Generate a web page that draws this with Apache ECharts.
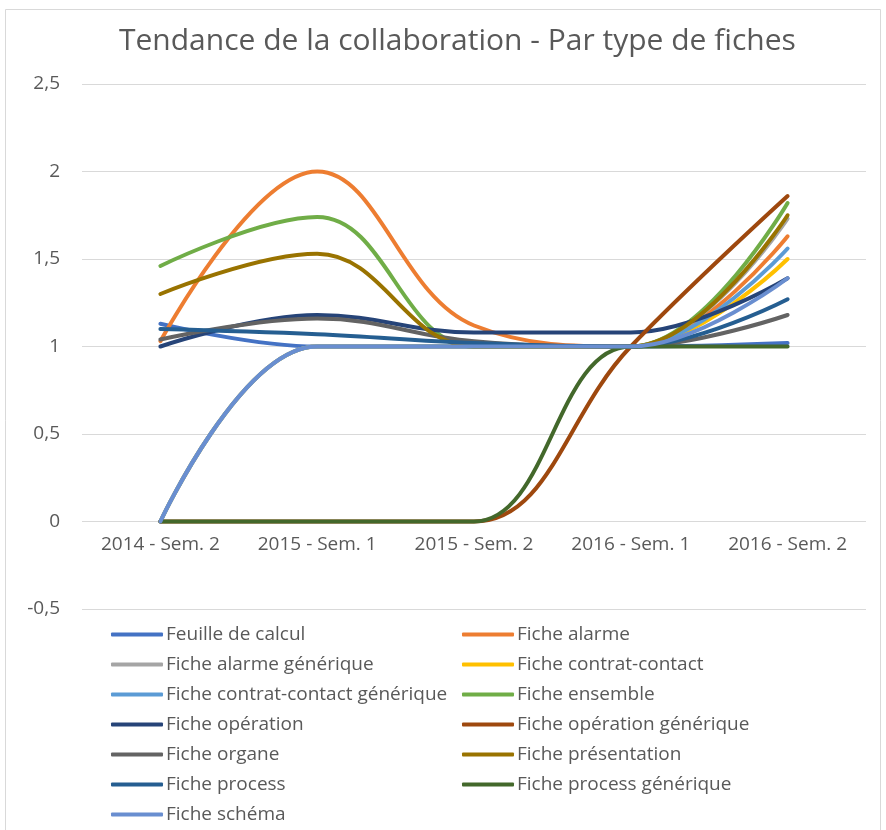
<!DOCTYPE html>
<html>
<head>
<meta charset="utf-8">
<script src="https://cdn.jsdelivr.net/npm/echarts@6/dist/echarts.min.js"></script>
<style>
  html, body { margin: 0; padding: 0; background: #fff; }
  #chart { width: 886px; height: 830px; }
</style>
</head>
<body>
<div id="chart"></div>
<script>
const categories = ["2014 - Sem. 2", "2015 - Sem. 1", "2015 - Sem. 2", "2016 - Sem. 1", "2016 - Sem. 2"];

const feuilleCalcul = [1.13, 1.0, 1.0, 1.0, 1.02];
const ficheAlarme = [1.03, 2.0, 1.12, 1.0, 1.63];
const ficheAlarmeGenerique = [0, 1.0, 1.0, 1.0, 1.73];
const ficheContratContact = [0, 1.0, 1.0, 1.0, 1.5];
const ficheContratContactGenerique = [0, 1.0, 1.0, 1.0, 1.56];
const ficheEnsemble = [1.46, 1.74, 1.0, 1.0, 1.82];
const ficheOperation = [1.0, 1.18, 1.08, 1.08, 1.39];
const ficheOperationGenerique = [0, 0, 0, 1.0, 1.86];
const ficheOrgane = [1.04, 1.16, 1.03, 1.0, 1.18];
const fichePresentation = [1.3, 1.53, 1.0, 1.0, 1.75];
const ficheProcess = [1.1, 1.07, 1.02, 1.0, 1.27];
const ficheProcessGenerique = [0, 0, 0, 1.0, 1.0];
const ficheSchema = [0, 1.0, 1.0, 1.0, 1.39];

const seriesNames = [
  "Feuille de calcul", "Fiche alarme", "Fiche alarme générique", "Fiche contrat-contact",
  "Fiche contrat-contact générique", "Fiche ensemble", "Fiche opération", "Fiche opération générique",
  "Fiche organe", "Fiche présentation", "Fiche process", "Fiche process générique", "Fiche schéma"
];
const seriesValues = [
  feuilleCalcul, ficheAlarme, ficheAlarmeGenerique, ficheContratContact,
  ficheContratContactGenerique, ficheEnsemble, ficheOperation, ficheOperationGenerique,
  ficheOrgane, fichePresentation, ficheProcess, ficheProcessGenerique, ficheSchema
];
const seriesColors = [
  "#4472C4", "#ED7D31", "#A5A5A5", "#FFC000", "#5B9BD5", "#70AD47", "#264478",
  "#9E480E", "#636363", "#997300", "#255E91", "#43682B", "#698ED0"
];

const chart = echarts.init(document.getElementById("chart"));
const font = "'Open Sans', 'Liberation Sans', sans-serif";

// two vertical legends side by side, like the two columns of the original
const legendBase = {
  orient: "vertical",
  top: 620,
  height: 210,
  itemWidth: 52,
  itemHeight: 4,
  itemGap: 11,
  icon: "roundRect",
  textStyle: { color: "#595959", fontSize: 19, fontFamily: font, padding: [0, 0, 0, -2] },
};

const option = {
  backgroundColor: "#fff",
  color: seriesColors,
  title: {
    text: "Tendance de la collaboration - Par type de fiches",
    left: 114,
    top: 21,
    textStyle: { color: "#595959", fontSize: 30, fontWeight: "normal", fontFamily: font },
  },
  graphic: [{
    type: "rect",
    shape: { x: 5.5, y: 9.5, width: 875, height: 822 },
    style: { fill: "none", stroke: "#d9d9d9", lineWidth: 1 },
    silent: true,
  }],
  legend: [
    Object.assign({}, legendBase, { left: 106, data: seriesNames.filter((_, i) => i % 2 === 0) }),
    Object.assign({}, legendBase, { left: 457, data: seriesNames.filter((_, i) => i % 2 === 1) }),
  ],
  grid: { left: 82, right: 20, top: 84, bottom: 221 },
  xAxis: {
    type: "category",
    data: categories,
    boundaryGap: true,
    axisLine: { show: false, onZero: false },
    axisTick: { show: false },
    // labels sit just under the 0 line, as in the original
    axisLabel: { color: "#595959", fontSize: 19, fontFamily: font, margin: -74 },
  },
  yAxis: {
    type: "value",
    min: -0.5,
    max: 2.5,
    interval: 0.5,
    axisLine: { show: false },
    axisTick: { show: false },
    splitLine: { lineStyle: { color: "#d9d9d9", width: 1 } },
    axisLabel: {
      color: "#595959",
      fontSize: 19,
      fontFamily: font,
      margin: 22,
      formatter: (v) => String(v).replace(".", ","),
    },
  },
  series: seriesNames.map((name, i) => ({
    name: name,
    type: "line",
    data: seriesValues[i],
    smooth: 0.4,
    showSymbol: false,
    symbol: "none",
    lineStyle: { width: 4, color: seriesColors[i], cap: "round" },
    itemStyle: { color: seriesColors[i] },
  })),
};

chart.setOption(option);
</script>
</body>
</html>
